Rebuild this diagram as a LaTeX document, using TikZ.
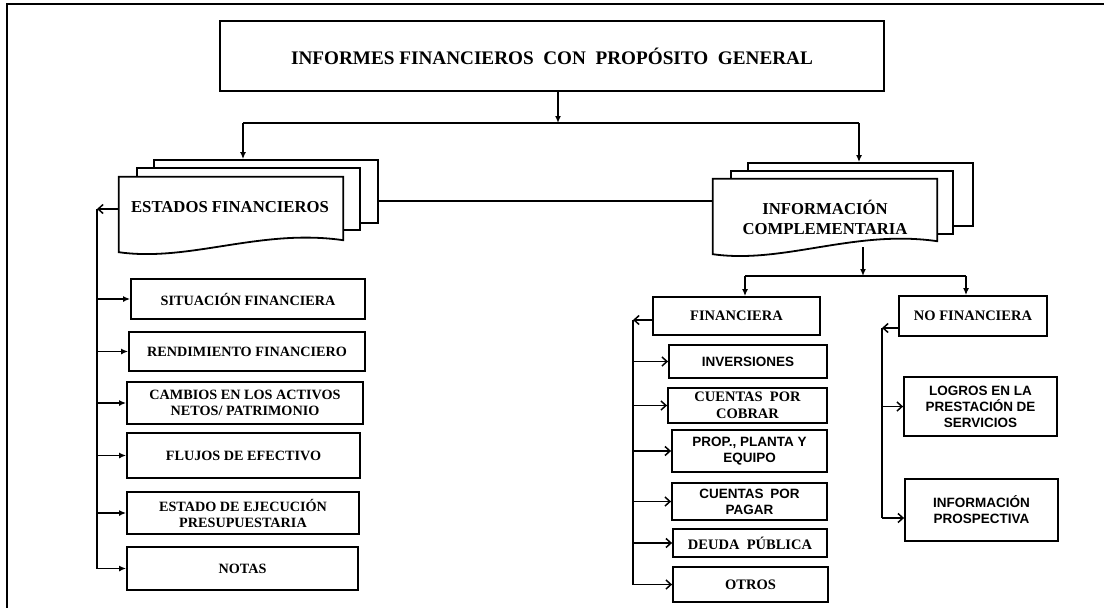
\documentclass[tikz,border=0pt]{standalone}
\usepackage{fontspec}
\setmainfont{Liberation Serif}
\newfontfamily\sansb{Liberation Sans}
\usetikzlibrary{arrows.meta,calc}

\begin{document}
\begin{tikzpicture}[x=1pt,y=-1pt,
  box/.style={draw, line width=1.8pt, fill=white, inner sep=0pt, align=center},
  page/.style={draw, line width=1.8pt, fill=white, inner sep=0pt},
  docline/.style={line width=1.8pt, fill=white},
  conn/.style={line width=1.5pt},
  sarr/.style={conn, -{Latex[length=7pt,width=6pt]}},
  oarr/.style={conn, -{Straight Barb[length=5pt,width=9pt,line width=1.5pt]}},
  serb/.style={font=\fontsize{14.2}{16}\selectfont\bfseries},
  serr/.style={font=\fontsize{14.5}{17}\selectfont\bfseries},
  sanb/.style={font=\sansb\fontsize{13.5}{16}\selectfont\bfseries},
  bigt/.style={font=\fontsize{16.7}{20}\selectfont\bfseries, align=center, inner sep=0pt},
]
\useasboundingbox (0,0) rectangle (1104,608);

% outer frame (only top and left edges fall inside the page)
\draw[line width=2.2pt] (7,640) -- (7,4) -- (1130,4);

% title box
\node[box, minimum width=664pt, minimum height=70pt,
      font=\fontsize{19.2}{22}\selectfont\bfseries] (top) at (552,56)
  {INFORMES FINANCIEROS\enspace CON\enspace PROPÓSITO\enspace GENERAL};

% stacked pages: financial statements
\node[page, minimum width=224pt, minimum height=63pt] (esback) at (266,191.5) {};
\node[page, minimum width=223pt, minimum height=62pt] (esmid) at (248.5,199) {};
\path node[inner sep=0pt, minimum width=224pt, minimum height=75pt] (es) at (231,214.5) {};
\draw[docline] (es.north west) -- (es.north east) -- ($(es.south east)+(0,-12)$)
  .. controls ($(es.south east)+(-83,-24)$) and ($(es.south west)+(71,10)$) .. (es.south west)
  -- cycle;
\node[bigt] (estxt) at (230,207) {ESTADOS FINANCIEROS};

% stacked pages: complementary information
\node[page, minimum width=225pt, minimum height=63pt] (icback) at (860.5,194.5) {};
\node[page, minimum width=222pt, minimum height=63pt] (icmid) at (842,202.5) {};
\path node[inner sep=0pt, minimum width=224pt, minimum height=75pt] (ic) at (825,216.5) {};
\draw[docline] (ic.north west) -- (ic.north east) -- ($(ic.south east)+(0,-13)$)
  .. controls ($(ic.south east)+(-83,-25)$) and ($(ic.south west)+(71,10)$) .. (ic.south west)
  -- cycle;
\node[bigt] (ictxt) at (825,217) {INFORMACIÓN\\COMPLEMENTARIA};

% financial statements list
\node[box, serb, minimum width=234pt, minimum height=40pt] (sit) at (248,299) {SITUACIÓN FINANCIERA};
\node[box, serb, minimum width=236pt, minimum height=39pt] (rend) at (247,351.5) {RENDIMIENTO FINANCIERO};
\node[box, serb, minimum width=236pt, minimum height=42pt] (camb) at (245,403) {CAMBIOS EN LOS ACTIVOS\\NETOS/ PATRIMONIO};
\node[box, serb, minimum width=233pt, minimum height=45pt] (fluj) at (243.5,455.5) {FLUJOS DE EFECTIVO};
\node[box, serb, minimum width=232pt, minimum height=42pt] (ejec) at (243,513) {ESTADO DE EJECUCIÓN\\PRESUPUESTARIA};
\node[box, serb, minimum width=231pt, minimum height=43pt] (notas) at (242.5,568.5) {NOTAS};

% financial information list
\node[box, serr, minimum width=167pt, minimum height=38pt] (fin) at (736.5,316) {FINANCIERA};
\node[box, sanb, minimum width=158pt, minimum height=33pt] (inv) at (748,361.5) {INVERSIONES};
\node[box, serr, minimum width=159pt, minimum height=35pt] (cxc) at (747.5,405.5) {CUENTAS\enspace POR\\COBRAR};
\node[box, sanb, minimum width=155pt, minimum height=42pt] (prop) at (749.5,451) {PROP., PLANTA Y\\EQUIPO};
\node[box, sanb, minimum width=155pt, minimum height=37pt] (cxp) at (749.5,501.5) {CUENTAS\enspace POR\\PAGAR};
\node[box, serr, minimum width=154pt, minimum height=28pt] (deuda) at (750,543) {DEUDA\enspace PÚBLICA};
\node[box, serr, minimum width=155pt, minimum height=35pt] (otros) at (750.5,584.5) {OTROS};

% non-financial information list
\node[box, serr, minimum width=148pt, minimum height=40pt] (nofin) at (973,316) {NO FINANCIERA};
\node[box, sanb, minimum width=153pt, minimum height=59pt] (logros) at (980.5,406.5) {LOGROS EN LA\\PRESTACIÓN DE\\SERVICIOS};
\node[box, sanb, minimum width=153pt, minimum height=62pt] (prosp) at (981.5,510) {INFORMACIÓN\\PROSPECTIVA};

% title to the two page stacks
\coordinate (bus) at (558,123);
\coordinate (busL) at (243,123);
\coordinate (busR) at (859,123);
\draw[sarr] (top.south -| bus) -- (bus);
\draw[conn] (busL) -- (busR);
\draw[sarr] (busL) -- (busL |- esback.north);
\draw[sarr] (busR) -- (busR |- icback.north);

% link between the two stacks
\coordinate (link) at ($(esback.east)+(0,9.5)$);
\draw[conn] (link) -- (link -| ic.west);

% complementary information to its two branches
\coordinate (icout) at (863,247);
\coordinate (bus2) at (863,276);
\coordinate (bus2L) at (745,276);
\coordinate (bus2R) at (966,276);
\draw[sarr] (icout) -- (bus2);
\draw[conn] (bus2L) -- (bus2R);
\draw[sarr] (bus2L) -- (bus2L |- fin.north);
\draw[sarr] (bus2R) -- (bus2R |- nofin.north);

% financial statements bracket
\coordinate (lv) at (97,209);
\draw[oarr] (es.west |- lv) -- (lv);
\draw[conn] (lv) -- (lv |- notas.west);
\foreach \b in {sit,rend,camb,fluj,ejec,notas}
  \draw[sarr] (lv |- \b.west) -- (\b.west);

% financial information bracket
\coordinate (rv) at (633,320);
\draw[oarr] (fin.west |- rv) -- (rv);
\draw[conn] (rv) -- (rv |- otros.west);
\foreach \b in {inv,cxc,prop,cxp,deuda,otros}
  \draw[oarr] (rv |- \b.west) -- (\b.west);

% non-financial information bracket
\coordinate (nv) at (882,328);
\draw[oarr] (nofin.west |- nv) -- (nv);
\draw[conn] (nv) -- ($(nv |- prosp.west)+(0,8)$);
\draw[oarr] (nv |- logros.west) -- (logros.west);
\draw[oarr] ($(nv |- prosp.west)+(0,8)$) -- ($(prosp.west)+(0,8)$);
\end{tikzpicture}
\end{document}
